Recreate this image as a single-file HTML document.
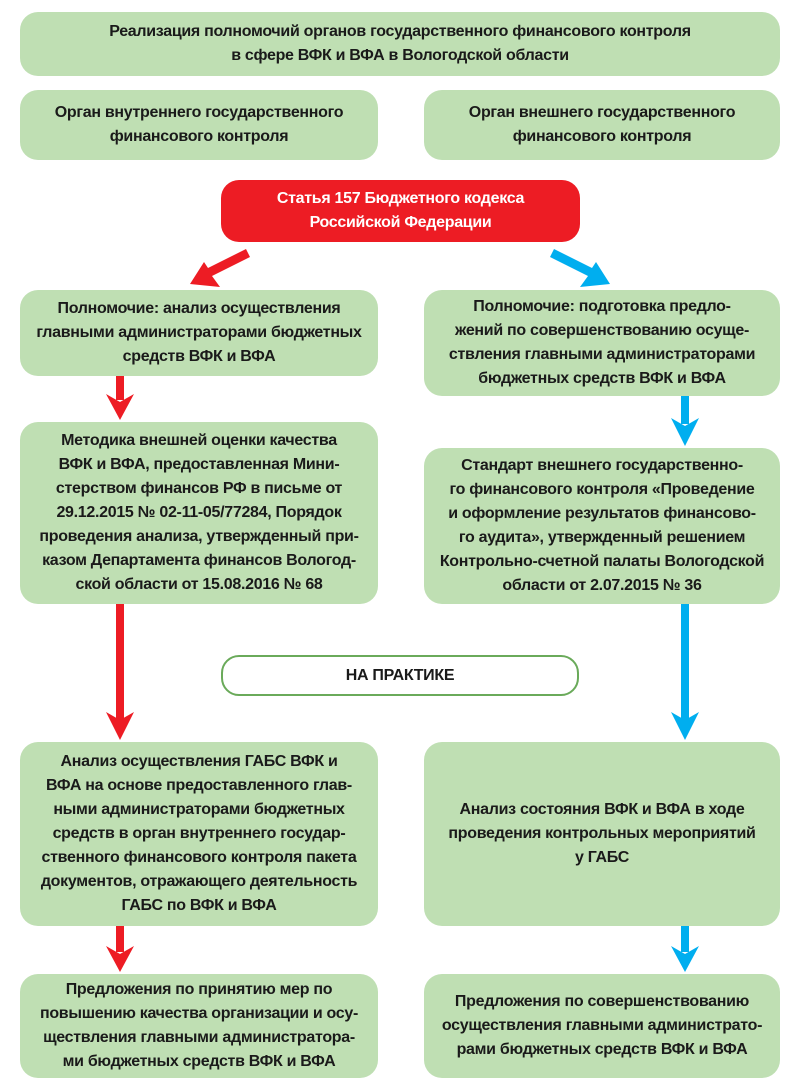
<!DOCTYPE html>
<html><head><meta charset="utf-8"><style>
body{margin:0;width:800px;height:1087px;background:#fff;position:relative;overflow:hidden;font-family:"Liberation Sans",sans-serif;}
.b{position:absolute;background:#bfdfb3;border-radius:18px;display:flex;align-items:center;justify-content:center;text-align:center;font-weight:bold;font-size:16px;line-height:24px;color:#1a1a1a;letter-spacing:-0.3px;}
.r{background:#ed1c24;color:#fff;}
.w{background:#fff;border:2px solid #6aaa5a;box-sizing:border-box;}
svg{position:absolute;left:0;top:0;}
</style></head><body>
<div class="b" style="left:20px;top:12px;width:760px;height:64px">Реализация полномочий органов государственного финансового контроля<br>в сфере ВФК и ВФА в Вологодской области</div>
<div class="b" style="left:20px;top:90px;width:358px;height:70px">Орган внутреннего государственного<br>финансового контроля</div>
<div class="b" style="left:424px;top:90px;width:356px;height:70px">Орган внешнего государственного<br>финансового контроля</div>
<div class="b r" style="left:221px;top:180px;width:359px;height:62px">Статья 157 Бюджетного кодекса<br>Российской Федерации</div>
<div class="b" style="left:20px;top:290px;width:358px;height:86px">Полномочие: анализ осуществления<br>главными администраторами бюджетных<br>средств ВФК и ВФА</div>
<div class="b" style="left:424px;top:290px;width:356px;height:106px">Полномочие: подготовка предло-<br>жений по совершенствованию осуще-<br>ствления главными администраторами<br>бюджетных средств ВФК и ВФА</div>
<div class="b" style="left:20px;top:422px;width:358px;height:182px">Методика внешней оценки качества<br>ВФК и ВФА, предоставленная Мини-<br>стерством финансов РФ в письме от<br>29.12.2015 № 02-11-05/77284, Порядок<br>проведения анализа, утвержденный при-<br>казом Департамента финансов Вологод-<br>ской области от 15.08.2016 № 68</div>
<div class="b" style="left:424px;top:448px;width:356px;height:156px">Стандарт внешнего государственно-<br>го финансового контроля «Проведение<br>и оформление результатов финансово-<br>го аудита», утвержденный решением<br>Контрольно-счетной палаты Вологодской<br>области от 2.07.2015 № 36</div>
<div class="b w" style="left:221px;top:655px;width:358px;height:41px">НА ПРАКТИКЕ</div>
<div class="b" style="left:20px;top:742px;width:358px;height:184px">Анализ осуществления ГАБС ВФК и<br>ВФА на основе предоставленного глав-<br>ными администраторами бюджетных<br>средств в орган внутреннего государ-<br>ственного финансового контроля пакета<br>документов, отражающего деятельность<br>ГАБС по ВФК и ВФА</div>
<div class="b" style="left:424px;top:742px;width:356px;height:184px">Анализ состояния ВФК и ВФА в ходе<br>проведения контрольных мероприятий<br>у ГАБС</div>
<div class="b" style="left:20px;top:974px;width:358px;height:104px">Предложения по принятию мер по<br>повышению качества организации и осу-<br>ществления главными администратора-<br>ми бюджетных средств ВФК и ВФА</div>
<div class="b" style="left:424px;top:974px;width:356px;height:104px">Предложения по совершенствованию<br>осуществления главными администрато-<br>рами бюджетных средств ВФК и ВФА</div>
<svg width="800" height="1087">
<g fill="#ed1c24">
<polygon points="246,249 250,257 212,276 220,287 190,284 204,262 208,268"/>
<rect x="116" y="376" width="8" height="24"/><polygon points="106,394 120,420 134,394 120,402"/>
<rect x="116" y="604" width="8" height="116"/><polygon points="106,712 120,740 134,712 120,720"/>
<rect x="116" y="926" width="8" height="26"/><polygon points="106,946 120,972 134,946 120,954"/>
</g>
<g fill="#00aeef">
<polygon points="550,257 554,249 592,268 596,262 610,284 580,287 588,276"/>
<rect x="681" y="396" width="8" height="28"/><polygon points="671,418 685,446 699,418 685,426"/>
<rect x="681" y="604" width="8" height="116"/><polygon points="671,712 685,740 699,712 685,720"/>
<rect x="681" y="926" width="8" height="26"/><polygon points="671,946 685,972 699,946 685,954"/>
</g>
</svg>
</body></html>
